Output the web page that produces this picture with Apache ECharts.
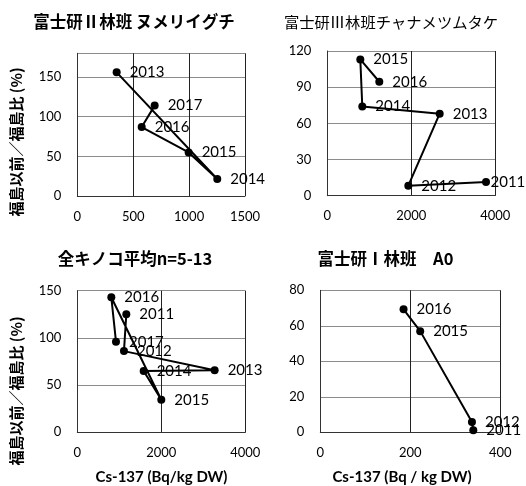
<!DOCTYPE html>
<html>
<head>
<meta charset="utf-8">
<script src="https://cdn.jsdelivr.net/npm/echarts@6/dist/echarts.min.js"></script>
<style>html,body{margin:0;padding:0;background:#fff}#c{width:526px;height:486px}</style>
</head>
<body>
<div id="c"></div>
<script>
// Panel 1: 富士研Ⅱ林班 ヌメリイグチ
const p1Years = ['2013', '2014', '2015', '2016', '2017'];
const p1Cs = [352, 1252, 996, 576, 692];
const p1Ratio = [156, 21.5, 55, 87, 114];
// Panel 2: 富士研Ⅲ林班チャナメツムタケ
const p2Years = ['2011', '2012', '2013', '2014', '2015', '2016'];
const p2Cs = [3779, 1929, 2676, 833, 786, 1238];
const p2Ratio = [11.4, 8.3, 68, 74, 113, 94.5];
// Panel 3: 全キノコ平均n=5-13
const p3Years = ['2011', '2012', '2013', '2014', '2015', '2016', '2017'];
const p3Cs = [1167, 1111, 3270, 1580, 2000, 810, 921];
const p3Ratio = [125, 86, 65.7, 65, 34.5, 143, 96];
// Panel 4: 富士研Ⅰ林班 A0
const p4Years = ['2011', '2012', '2015', '2016'];
const p4Cs = [340, 337, 222, 185];
const p4Ratio = [1.1, 5.8, 57, 69.3];

const titles = ['富士研Ⅱ林班 ヌメリイグチ', '富士研Ⅲ林班チャナメツムタケ', '全キノコ平均n=5-13', '富士研Ⅰ林班　A0'];
const yName = '福島以前／福島比 (%)';
const xNames = ['Cs-137 (Bq/kg DW)', 'Cs-137 (Bq / kg DW)'];

const LAT = 'Lato, "Noto Sans CJK JP", sans-serif';
const CJK = '"Noto Sans CJK JP", Lato, sans-serif';

const grids = [
  {left: 77.3, top: 53.3, width: 167.7, height: 142.7},
  {left: 327.3, top: 51, width: 168, height: 144.7},
  {left: 77.3, top: 290.7, width: 168, height: 141.6},
  {left: 320.3, top: 290.3, width: 180, height: 142}
];
const xr = [[0, 1500, 500], [0, 4000, 2000], [0, 4000, 2000], [0, 400, 200]];
const yr = [[0, 180, 50], [0, 120, 30], [0, 150, 50], [0, 80, 20]];

function xAxis(i) {
  return {
    gridIndex: i, type: 'value', min: xr[i][0], max: xr[i][1], interval: xr[i][2],
    axisLine: {show: true, onZero: false, lineStyle: {color: '#333', width: 1}},
    axisTick: {show: false},
    axisLabel: {color: '#000', fontSize: 13, fontFamily: LAT, margin: 14,
      formatter: function (v) { return String(v); }},
    splitLine: {show: true, lineStyle: {color: '#222', width: 1}}
  };
}
function yAxis(i) {
  return {
    gridIndex: i, type: 'value', min: yr[i][0], max: yr[i][1], interval: yr[i][2],
    axisLine: {show: true, onZero: false, lineStyle: {color: '#333', width: 1}},
    axisTick: {show: false},
    axisLabel: {color: '#000', fontSize: 13, fontFamily: LAT, margin: 16,
      formatter: function (v) { return (v % yr[i][2] === 0) ? String(v) : ''; }},
    splitLine: {show: true, lineStyle: {color: '#8c8c8c', width: 1}}
  };
}
function series(i, years, xs, ys, labelOffsets) {
  return {
    type: 'line', xAxisIndex: i, yAxisIndex: i,
    symbol: 'circle', symbolSize: 8,
    lineStyle: {color: '#000', width: 2},
    itemStyle: {color: '#000'},
    label: {show: true, position: 'right', distance: 9, color: '#000', fontSize: 15, fontFamily: LAT, formatter: '{b}'},
    data: years.map(function (y, k) {
      const item = {name: y, value: [xs[k], ys[k]]};
      if (labelOffsets && labelOffsets[y]) item.label = {offset: labelOffsets[y]};
      return item;
    }),
    animation: false
  };
}

function txt(text, x, y, opts) {
  opts = opts || {};
  return {
    type: 'text', x: x, y: y, rotation: opts.rot || 0,
    style: {text: text, fill: '#000', font: opts.font, textAlign: 'center', textVerticalAlign: 'middle'}
  };
}

const chart = echarts.init(document.getElementById('c'), null, {renderer: 'canvas'});
chart.setOption({
  backgroundColor: '#fff',
  animation: false,
  grid: grids,
  xAxis: [0, 1, 2, 3].map(xAxis),
  yAxis: [0, 1, 2, 3].map(yAxis),
  series: [
    series(0, p1Years, p1Cs, p1Ratio),
    series(1, p2Years, p2Cs, p2Ratio, {'2011': [-8.5, 0]}),
    series(2, p3Years, p3Cs, p3Ratio),
    series(3, p4Years, p4Cs, p4Ratio)
  ],
  graphic: [
    txt(titles[0], 134, 21.7, {font: 'bold 16.5px ' + CJK}),
    txt(titles[1], 391, 21.7, {font: '15.3px ' + CJK}),
    txt(titles[2], 135, 259, {font: 'bold 16.5px ' + CJK}),
    txt(titles[3], 385.5, 259, {font: 'bold 16.5px ' + CJK}),
    txt(yName, 16.7, 142, {font: 'bold 15px ' + CJK, rot: Math.PI / 2}),
    txt(yName, 16.7, 391, {font: 'bold 15px ' + CJK, rot: Math.PI / 2}),
    txt(xNames[0], 161.5, 477, {font: 'bold 15px ' + LAT}),
    txt(xNames[1], 402, 477, {font: 'bold 15px ' + LAT})
  ]
});
</script>
</body>
</html>
